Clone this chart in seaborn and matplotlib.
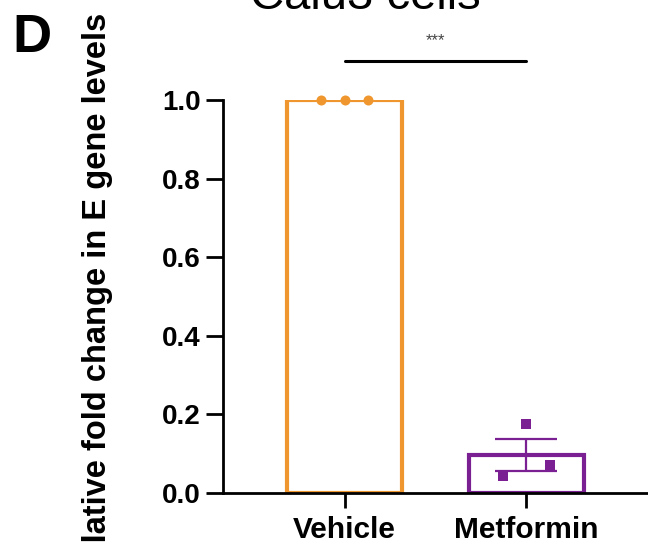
import numpy as np
import pandas as pd
import matplotlib
matplotlib.use("Agg")
import matplotlib.pyplot as plt
import seaborn as sns

# ---- data ----
groups = ["Vehicle", "Metformin"]
vehicle_values = [1.0, 1.0, 1.0]
metformin_values = [0.043, 0.176, 0.071]
yticks = [0.0, 0.2, 0.4, 0.6, 0.8, 1.0]
ylabel = "Relative fold change in E gene levels"
title = "Calu3 cells"
panel = "D"
signif = "***"

# ---- style ----
sns.set_style("ticks")
plt.rcParams["font.family"] = ["Liberation Sans", "DejaVu Sans"]
plt.rcParams["text.color"] = "black"
plt.rcParams["axes.labelcolor"] = "black"
plt.rcParams["xtick.color"] = "black"
plt.rcParams["ytick.color"] = "black"
colors = {"Vehicle": "#F0962E", "Metformin": "#7B2092"}
point_offsets = [-0.13, 0.0, 0.13]  # horizontal layout of replicate points

df = pd.DataFrame({
    "group": ["Vehicle"] * len(vehicle_values) + ["Metformin"] * len(metformin_values),
    "value": vehicle_values + metformin_values,
})

fig = plt.figure(figsize=(6.48, 5.44), dpi=100)
ax = fig.add_axes([223 / 648, 51 / 544, 1 - 223 / 648, 393 / 544])

sns.barplot(data=df, x="group", y="value", hue="group", order=groups,
            palette=colors, errorbar=None, fill=False, linewidth=3,
            width=0.63, legend=False, ax=ax, zorder=2)

# replicate points and SEM error bars
for i, g in enumerate(groups):
    vals = np.array(df.loc[df["group"] == g, "value"])
    xs = i + np.array(point_offsets[:len(vals)])
    marker = "o" if g == "Vehicle" else "s"
    ax.scatter(xs, vals, marker=marker, s=52, color=colors[g], zorder=4,
               clip_on=False, linewidths=0)
    m = vals.mean()
    se = vals.std(ddof=1) / np.sqrt(len(vals))
    if se > 0:
        ax.errorbar([i], [m], yerr=[se], color=colors[g], capsize=22,
                    elinewidth=1.6, capthick=1.6, zorder=3, fmt="none")

ax.set_xlim(-0.67, 1.67)
ax.set_ylim(0, 1.0)
ax.set_yticks(yticks)
ax.set_yticklabels([f"{t:.1f}" for t in yticks])
ax.set_xlabel("")
ax.set_ylabel(ylabel, fontsize=23.5, fontweight="bold", va="center")
ax.yaxis.set_label_coords(-0.296, 0.494)

for lbl in ax.get_xticklabels() + ax.get_yticklabels():
    lbl.set_fontweight("bold")
ax.tick_params(axis="y", labelsize=20, width=2, length=12, pad=4, color="black")
ax.tick_params(axis="x", labelsize=21.5, width=2, length=11, pad=5.5, color="black")

sns.despine(ax=ax)
for s in ["left", "bottom"]:
    ax.spines[s].set_linewidth(2)
    ax.spines[s].set_color("black")

# significance annotation
ax.plot([0, 1], [1.099, 1.099], color="black", lw=2.2, clip_on=False)
ax.text(0.5, 1.15, signif, ha="center", va="center", fontsize=12, color="#444444")

ax.set_title(title, x=0.334, y=1.232, fontsize=34, pad=0, va="baseline")
fig.text(12 / 648, 1 - 52 / 544, panel, fontsize=39, fontweight="bold",
         ha="left", va="baseline")

fig.savefig("out.png", dpi=100)
